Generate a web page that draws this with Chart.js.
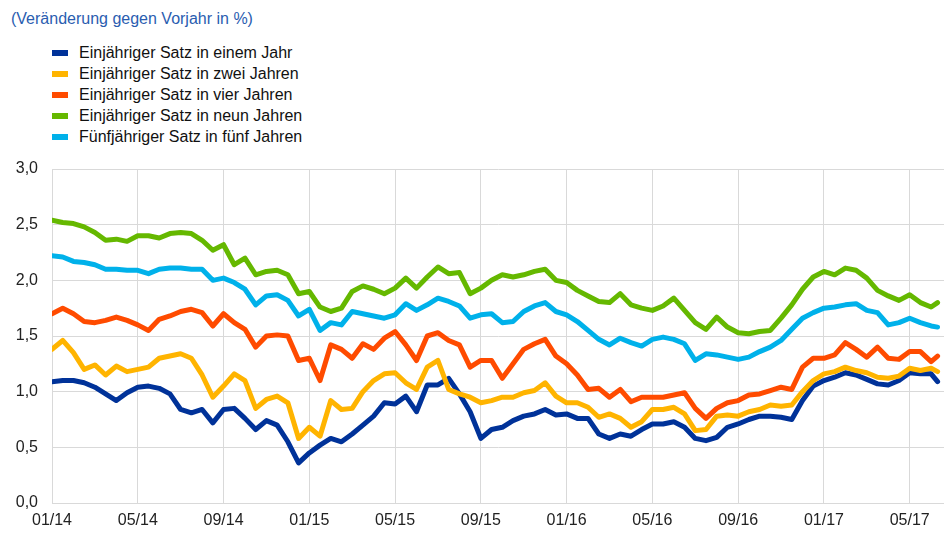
<!DOCTYPE html>
<html><head><meta charset="utf-8">
<script src="https://cdn.jsdelivr.net/npm/chart.js@4.4.0/dist/chart.umd.min.js"></script>
<style>
html,body{margin:0;padding:0;background:#fff;}
#wrap{position:relative;width:944px;height:539px;font-family:"Liberation Sans",Arial,sans-serif;}
#title{position:absolute;left:11px;top:10px;font-size:16px;color:#2a5db0;}
#legend{position:absolute;left:52px;top:43px;}
.item{height:20.8px;display:flex;align-items:center;font-size:16px;color:#111;}
.sw{width:16px;height:6px;margin-right:11px;}
canvas{position:absolute;left:0;top:0;}
</style></head>
<body><div id="wrap"><div id="title">(Veränderung gegen Vorjahr in %)</div><div id="legend"></div><canvas id="c" width="944" height="539"></canvas></div>
<script>
const tickLabels = ['01/14','05/14','09/14','01/15','05/15','09/15','01/16','05/16','09/16','01/17','05/17'];
const seriesNames = ['Einjähriger Satz in einem Jahr','Einjähriger Satz in zwei Jahren','Einjähriger Satz in vier Jahren','Einjähriger Satz in neun Jahren','Fünfjähriger Satz in fünf Jahren'];
const seriesColors = ['#003299','#FFB400','#FF4B00','#65B800','#00B1EA'];
// months since January 2014, half-month sampling; last observation mid-June 2017
const monthOffsets = Array.from({length:84},(_,k)=> k<83 ? k*0.5 : 41.3);

const blue = [1.09,1.10,1.10,1.08,1.04,0.98,0.92,0.99,1.04,1.05,1.03,0.98,0.84,0.81,0.84,0.72,0.84,0.85,0.76,0.66,0.74,0.70,0.55,0.36,0.45,0.52,0.58,0.55,0.62,
 0.70,0.78,0.90,0.89,0.96,0.82,1.06,1.06,1.12,0.98,0.82,0.58,0.66,0.68,
 0.74,0.78,0.80,0.84,0.79,0.80,0.76,0.76,0.62,0.58,0.62,0.60,0.66,0.71,
 0.71,0.73,0.68,0.58,0.56,0.59,0.68,0.71,0.75,0.78,0.78,0.77,0.75,0.92,
 1.05,1.10,1.13,1.17,1.15,1.11,1.07,1.06,1.10,1.17,1.16,1.16,1.09];
const yellow = [1.38,1.46,1.35,1.20,1.24,1.15,1.23,1.18,1.20,1.22,1.30,1.32,1.34,1.30,1.15,0.95,1.05,1.16,1.10,0.85,0.93,0.96,0.90,0.58,0.68,0.60,0.92,0.84,0.85,
 1.00,1.10,1.16,1.17,1.08,1.02,1.22,1.28,1.02,0.98,0.95,0.90,0.92,0.95,
 0.95,0.99,1.01,1.08,0.96,0.90,0.90,0.86,0.77,0.80,0.76,0.68,0.73,0.84,
 0.84,0.86,0.80,0.65,0.66,0.78,0.79,0.78,0.82,0.84,0.88,0.87,0.88,1.00,
 1.10,1.16,1.18,1.22,1.19,1.17,1.13,1.12,1.14,1.21,1.19,1.21,1.18];
const orange = [1.70,1.75,1.70,1.63,1.62,1.64,1.67,1.64,1.60,1.55,1.65,1.68,1.72,1.74,1.71,1.59,1.70,1.62,1.56,1.40,1.50,1.51,1.50,1.28,1.30,1.10,1.42,1.38,1.30,
 1.43,1.38,1.48,1.54,1.42,1.28,1.50,1.53,1.46,1.42,1.22,1.28,1.28,1.12,
 1.25,1.38,1.43,1.47,1.32,1.25,1.15,1.02,1.03,0.95,1.02,0.91,0.95,0.95,
 0.95,0.97,0.99,0.85,0.76,0.85,0.90,0.92,0.97,0.98,1.01,1.04,1.02,1.22,
 1.30,1.30,1.33,1.44,1.38,1.31,1.40,1.30,1.29,1.36,1.36,1.27,1.32];
const green = [2.54,2.52,2.51,2.48,2.43,2.36,2.37,2.35,2.40,2.40,2.38,2.42,2.43,2.42,2.36,2.27,2.32,2.14,2.20,2.05,2.08,2.09,2.05,1.88,1.90,1.76,1.72,1.75,1.90,
 1.95,1.92,1.88,1.93,2.02,1.93,2.03,2.12,2.06,2.07,1.88,1.93,2.00,2.05,
 2.03,2.05,2.08,2.10,2.00,1.98,1.91,1.86,1.81,1.80,1.88,1.78,1.75,1.73,
 1.77,1.84,1.73,1.62,1.56,1.67,1.58,1.53,1.52,1.54,1.55,1.66,1.78,1.92,
 2.03,2.08,2.05,2.11,2.09,2.02,1.91,1.86,1.82,1.87,1.80,1.76,1.80];
const lightBlue = [2.22,2.21,2.17,2.16,2.14,2.10,2.10,2.09,2.09,2.06,2.10,2.11,2.11,2.10,2.10,2.00,2.02,1.98,1.92,1.78,1.86,1.87,1.82,1.68,1.74,1.55,1.62,1.60,1.72,
 1.70,1.68,1.66,1.69,1.79,1.73,1.78,1.84,1.81,1.77,1.66,1.69,1.70,1.62,
 1.63,1.72,1.77,1.80,1.72,1.69,1.63,1.55,1.47,1.42,1.48,1.44,1.41,1.47,
 1.49,1.47,1.43,1.28,1.34,1.33,1.31,1.29,1.31,1.36,1.40,1.46,1.56,1.66,
 1.71,1.75,1.76,1.78,1.79,1.73,1.71,1.60,1.62,1.66,1.62,1.59,1.58];

const allSeries = [blue, yellow, orange, green, lightBlue];

// HTML legend
const leg = document.getElementById('legend');
seriesNames.forEach((n,i)=>{
  const d = document.createElement('div'); d.className='item';
  d.innerHTML = '<span class="sw" style="background:'+seriesColors[i]+'"></span><span>'+n+'</span>';
  leg.appendChild(d);
});

const datasets = allSeries.map((s,i)=>({
  label: seriesNames[i],
  data: s.map((v,k)=>({x: monthOffsets[k], y: v})),
  borderColor: seriesColors[i],
  backgroundColor: seriesColors[i],
  borderWidth: 5,
  pointRadius: 0,
  tension: 0,
  borderJoinStyle: 'round',
  borderCapStyle: 'round',
  order: 5 - i
}));

new Chart(document.getElementById('c'), {
  type: 'line',
  data: { datasets },
  options: {
    responsive: false,
    animation: false,
    devicePixelRatio: 1,
    layout: { padding: { top: 169, right: 0, left: 0, bottom: 0 } },
    plugins: { legend: { display: false }, tooltip: { enabled: false }, title: { display: false } },
    scales: {
      x: {
        type: 'linear', min: 0, max: 41.6,
        afterBuildTicks: (sc) => { sc.ticks = tickLabels.map((_,i)=>({value: i*4})); },
        afterFit: (sc) => { sc.height = 36; },
        ticks: { callback: (v) => tickLabels[Math.round(v/4)], font: { family: 'Liberation Sans', size: 16 }, color: '#222', padding: 8, maxRotation: 0, autoSkip: false },
        grid: { color: '#d9d9d9', lineWidth: 1, drawTicks: false },
        border: { color: '#d9d9d9' }
      },
      y: {
        min: 0, max: 3,
        afterFit: (sc) => { sc.width = 52; },
        ticks: { stepSize: 0.5, callback: (v) => v.toFixed(1).replace('.', ','), font: { family: 'Liberation Sans', size: 16 }, color: '#222', padding: 14 },
        grid: { color: '#d9d9d9', lineWidth: 1, drawTicks: false },
        border: { color: '#d9d9d9' }
      }
    }
  }
});
</script>
</body></html>
